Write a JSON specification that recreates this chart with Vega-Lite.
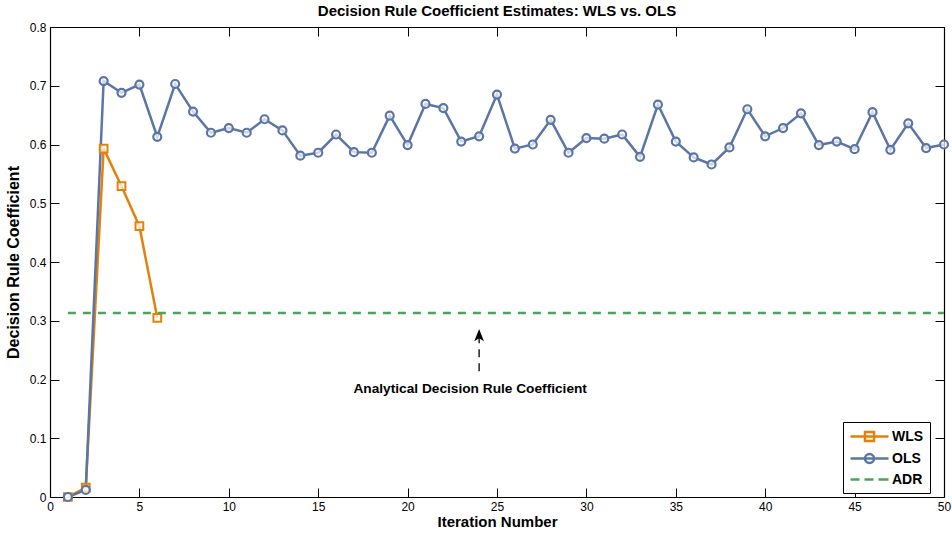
{
  "$schema": "https://vega.github.io/schema/vega-lite/v6.json",
  "width": 894,
  "height": 470,
  "autosize": {"type": "none"},
  "padding": {"left": 50, "top": 27, "right": 8, "bottom": 40},
  "background": "white",
  "config": {
    "font": "Liberation Sans",
    "view": {"stroke": null},
    "axis": {"grid": false, "domainColor": "black", "domainWidth": 1.2, "tickColor": "black", "tickWidth": 1, "tickSize": -9, "labelPadding": 13, "labelFont": "Liberation Sans", "labelFontSize": 12, "labelColor": "black", "titleFont": "Liberation Sans", "titleFontSize": 15, "titleFontWeight": "bold", "titleColor": "black"}
  },
  "title": {"text": "Decision Rule Coefficient Estimates: WLS vs. OLS", "fontSize": 15, "fontWeight": "bold", "font": "Liberation Sans", "color": "black", "anchor": "middle", "frame": "group", "offset": 2},
  "datasets": {
    "est": [
      {"series": "WLS", "iter": 1, "value": 0.0},
      {"series": "WLS", "iter": 2, "value": 0.016},
      {"series": "WLS", "iter": 3, "value": 0.593},
      {"series": "WLS", "iter": 4, "value": 0.529},
      {"series": "WLS", "iter": 5, "value": 0.461},
      {"series": "WLS", "iter": 6, "value": 0.305},
      {"series": "OLS", "iter": 1, "value": 0.0},
      {"series": "OLS", "iter": 2, "value": 0.012},
      {"series": "OLS", "iter": 3, "value": 0.708},
      {"series": "OLS", "iter": 4, "value": 0.688},
      {"series": "OLS", "iter": 5, "value": 0.702},
      {"series": "OLS", "iter": 6, "value": 0.613},
      {"series": "OLS", "iter": 7, "value": 0.703},
      {"series": "OLS", "iter": 8, "value": 0.656},
      {"series": "OLS", "iter": 9, "value": 0.620},
      {"series": "OLS", "iter": 10, "value": 0.628},
      {"series": "OLS", "iter": 11, "value": 0.620},
      {"series": "OLS", "iter": 12, "value": 0.643},
      {"series": "OLS", "iter": 13, "value": 0.624},
      {"series": "OLS", "iter": 14, "value": 0.581},
      {"series": "OLS", "iter": 15, "value": 0.586},
      {"series": "OLS", "iter": 16, "value": 0.617},
      {"series": "OLS", "iter": 17, "value": 0.587},
      {"series": "OLS", "iter": 18, "value": 0.586},
      {"series": "OLS", "iter": 19, "value": 0.649},
      {"series": "OLS", "iter": 20, "value": 0.599},
      {"series": "OLS", "iter": 21, "value": 0.669},
      {"series": "OLS", "iter": 22, "value": 0.662},
      {"series": "OLS", "iter": 23, "value": 0.605},
      {"series": "OLS", "iter": 24, "value": 0.614},
      {"series": "OLS", "iter": 25, "value": 0.685},
      {"series": "OLS", "iter": 26, "value": 0.593},
      {"series": "OLS", "iter": 27, "value": 0.600},
      {"series": "OLS", "iter": 28, "value": 0.642},
      {"series": "OLS", "iter": 29, "value": 0.586},
      {"series": "OLS", "iter": 30, "value": 0.611},
      {"series": "OLS", "iter": 31, "value": 0.610},
      {"series": "OLS", "iter": 32, "value": 0.617},
      {"series": "OLS", "iter": 33, "value": 0.579},
      {"series": "OLS", "iter": 34, "value": 0.668},
      {"series": "OLS", "iter": 35, "value": 0.605},
      {"series": "OLS", "iter": 36, "value": 0.578},
      {"series": "OLS", "iter": 37, "value": 0.566},
      {"series": "OLS", "iter": 38, "value": 0.595},
      {"series": "OLS", "iter": 39, "value": 0.660},
      {"series": "OLS", "iter": 40, "value": 0.614},
      {"series": "OLS", "iter": 41, "value": 0.628},
      {"series": "OLS", "iter": 42, "value": 0.653},
      {"series": "OLS", "iter": 43, "value": 0.599},
      {"series": "OLS", "iter": 44, "value": 0.605},
      {"series": "OLS", "iter": 45, "value": 0.592},
      {"series": "OLS", "iter": 46, "value": 0.655},
      {"series": "OLS", "iter": 47, "value": 0.591},
      {"series": "OLS", "iter": 48, "value": 0.636},
      {"series": "OLS", "iter": 49, "value": 0.594},
      {"series": "OLS", "iter": 50, "value": 0.600},
      {"series": "ADR", "iter": 1, "value": 0.313},
      {"series": "ADR", "iter": 50, "value": 0.313}
    ],
    "note": [
      {"label": "Analytical Decision Rule Coefficient", "textX": 23.5, "textY": 0.183, "arrowX": 24, "tipY": 0.275, "tailY": 0.214}
    ]
  },
  "layer": [
    {
      "data": {"name": "est"},
      "transform": [{"filter": "datum.series === 'WLS'"}],
      "mark": {"type": "line", "color": "#E2820A", "strokeWidth": 2.5},
      "encoding": {
        "x": {"field": "iter", "type": "quantitative", "scale": {"domain": [0, 50], "nice": false, "zero": false}, "axis": {"values": [0,5,10,15,20,25,30,35,40,45,50], "title": "Iteration Number", "titlePadding": 2, "labelFlush": false}},
        "y": {"field": "value", "type": "quantitative", "scale": {"domain": [0, 0.8], "nice": false}, "axis": {"values": [0,0.1,0.2,0.3,0.4,0.5,0.6,0.7,0.8], "format": ".1~f", "title": "Decision Rule Coefficient", "titleFontSize": 16, "titlePadding": 8, "labelFlush": false}}
      }
    },
    {
      "data": {"name": "est"},
      "transform": [{"filter": "datum.series === 'OLS'"}],
      "mark": {"type": "line", "color": "#5B75A6", "strokeWidth": 2.5},
      "encoding": {
        "x": {"field": "iter", "type": "quantitative", "axis": null},
        "y": {"field": "value", "type": "quantitative", "axis": null}
      }
    },
    {
      "data": {"name": "est"},
      "transform": [{"filter": "datum.series === 'WLS'"}],
      "mark": {"type": "point", "shape": "square", "size": 60, "stroke": "#E2820A", "strokeWidth": 2, "fill": "white", "fillOpacity": 0.7, "filled": false},
      "encoding": {
        "x": {"field": "iter", "type": "quantitative", "axis": null},
        "y": {"field": "value", "type": "quantitative", "axis": null}
      }
    },
    {
      "data": {"name": "est"},
      "transform": [{"filter": "datum.series === 'OLS'"}],
      "mark": {"type": "point", "shape": "circle", "size": 64, "stroke": "#5B75A6", "strokeWidth": 2.2, "fill": "white", "fillOpacity": 0.7, "filled": false},
      "encoding": {
        "x": {"field": "iter", "type": "quantitative", "axis": null},
        "y": {"field": "value", "type": "quantitative", "axis": null}
      }
    },
    {
      "data": {"name": "est"},
      "transform": [{"filter": "datum.series === 'ADR'"}],
      "mark": {"type": "line", "color": "#4CA45A", "strokeWidth": 2.5, "strokeDash": [8, 7]},
      "encoding": {
        "x": {"field": "iter", "type": "quantitative", "axis": {"orient": "top", "values": [0,5,10,15,20,25,30,35,40,45,50], "labels": false, "title": null}},
        "y": {"field": "value", "type": "quantitative", "axis": {"orient": "right", "values": [0,0.1,0.2,0.3,0.4,0.5,0.6,0.7,0.8], "labels": false, "title": null}}
      }
    },
    {
      "data": {"name": "note"},
      "mark": {"type": "rule", "color": "black", "strokeWidth": 1.3, "strokeDash": [8, 6]},
      "encoding": {
        "x": {"field": "arrowX", "type": "quantitative", "axis": null},
        "y": {"field": "tailY", "type": "quantitative", "axis": null},
        "y2": {"field": "tipY"}
      }
    },
    {
      "data": {"name": "note"},
      "mark": {"type": "point", "shape": "M0,-1L0.75,0.9L0,0.45L-0.75,0.9Z", "size": 169, "filled": true, "color": "black", "opacity": 1},
      "encoding": {
        "x": {"field": "arrowX", "type": "quantitative", "axis": null},
        "y": {"field": "tipY", "type": "quantitative", "axis": null}
      }
    },
    {
      "data": {"name": "note"},
      "mark": {"type": "text", "fontSize": 13.7, "fontWeight": "bold", "font": "Liberation Sans", "color": "black", "align": "center", "baseline": "middle"},
      "encoding": {
        "x": {"field": "textX", "type": "quantitative", "axis": null},
        "y": {"field": "textY", "type": "quantitative", "axis": null},
        "text": {"field": "label"}
      }
    },
    {
      "data": {"name": "est"},
      "mark": {"type": "point", "opacity": 0, "filled": false},
      "encoding": {
        "x": {"field": "iter", "type": "quantitative", "axis": null},
        "y": {"field": "value", "type": "quantitative", "axis": null},
        "color": {"field": "series", "type": "nominal", "scale": {"domain": ["WLS", "OLS", "ADR"], "range": ["#E2820A", "#5B75A6", "#4CA45A"]},
          "legend": {"title": null, "orient": "none", "legendX": 793, "legendY": 395, "padding": 6, "strokeColor": "black", "fillColor": "white", "symbolSize": 196, "symbolStrokeWidth": 2.5, "symbolOpacity": 1, "symbolFillColor": "white", "labelOffset": 26, "labelFontSize": 14, "labelFontWeight": "bold", "labelFont": "Liberation Sans", "labelColor": "black", "rowPadding": 2}},
        "shape": {"field": "series", "type": "nominal", "scale": {"domain": ["WLS", "OLS", "ADR"], "range": ["M-1,0H4.43M1.07,-0.64H2.36V0.64H1.07Z", "M-1,0H4.43M1.07,0A0.64,0.64 0 1,0 2.36,0A0.64,0.64 0 1,0 1.07,0", "M-1,0H0.29M1,0H2.29M3,0H4.43"]},
          "legend": {"title": null, "orient": "none", "legendX": 793, "legendY": 395, "padding": 6, "strokeColor": "black", "fillColor": "white", "symbolSize": 196, "symbolStrokeWidth": 2.5, "symbolOpacity": 1, "symbolFillColor": "white", "labelOffset": 26, "labelFontSize": 14, "labelFontWeight": "bold", "labelFont": "Liberation Sans", "labelColor": "black", "rowPadding": 2}}
      }
    }
  ],
  "resolve": {"axis": {"x": "independent", "y": "independent"}}
}
